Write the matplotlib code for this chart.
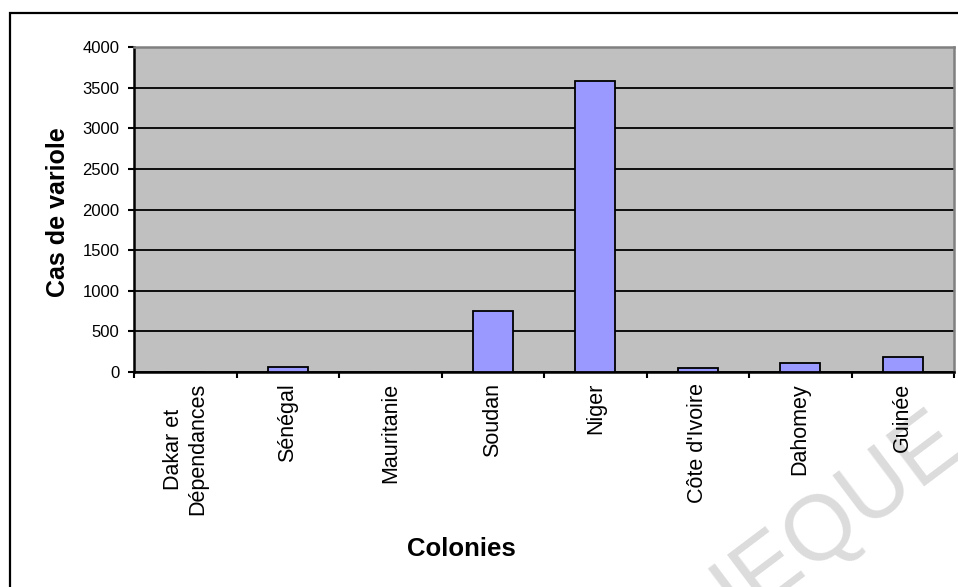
import matplotlib.pyplot as plt
from matplotlib.patches import Rectangle

colonies = ['Dakar et\nDépendances', 'Sénégal', 'Mauritanie', 'Soudan',
            'Niger', "Côte d'Ivoire", 'Dahomey', 'Guinée']
cas = [0, 58, 0, 750, 3580, 55, 107, 181]
yticks = [0, 500, 1000, 1500, 2000, 2500, 3000, 3500, 4000]

plt.rcParams['font.family'] = ['Liberation Sans', 'DejaVu Sans']

fig = plt.figure(figsize=(9.58, 5.87), dpi=100)
W, H = 958, 587

# outer frame of the chart object
fig.patches.append(Rectangle((9.5 / W, -0.2), 2.0, 1 - 13 / H + 0.2,
                             transform=fig.transFigure, fill=False,
                             edgecolor='black', linewidth=1.6, zorder=0))

# faint diagonal watermark, kept under the axes and labels
fig.text(952 / W, 1 - 430 / H, 'BIBLIOTHEQUE', fontsize=66,
         color='#dcdcdc', rotation=37, rotation_mode='anchor',
         ha='right', va='center', zorder=-1)

ax = fig.add_axes([134 / W, 1 - 372 / H, (954 - 134) / W, (372 - 47) / H])
ax.set_facecolor('#c0c0c0')

x = range(len(colonies))
ax.bar(x, cas, width=0.39, color='#9999ff', edgecolor='black',
       linewidth=1.3, zorder=3)

ax.set_xlim(-0.5, len(colonies) - 0.5)
ax.set_ylim(0, 4000)
ax.set_yticks(yticks)
ax.set_yticklabels([str(v) for v in yticks], fontsize=12)
ax.yaxis.grid(True, color='black', linewidth=1.3, zorder=1)
ax.set_axisbelow(True)
ax.tick_params(axis='y', direction='out', length=4.5, width=1.5, pad=6)

# ticks between categories, labels at bar centres
ax.set_xticks([i - 0.5 for i in range(len(colonies) + 1)])
ax.set_xticklabels([])
ax.set_xticks(list(x), minor=True)
ax.set_xticklabels(colonies, minor=True, rotation=90, fontsize=15.5,
                   ha='center', va='top', multialignment='center')
ax.tick_params(axis='x', which='major', direction='out', length=4.5, width=1.5)
ax.tick_params(axis='x', which='minor', length=0, pad=8)

for side in ['left', 'bottom']:
    ax.spines[side].set_color('black')
    ax.spines[side].set_linewidth(1.8)
for side in ['top', 'right']:
    ax.spines[side].set_color('#808080')
    ax.spines[side].set_linewidth(1.8)

fig.text(58 / W, 1 - 212 / H, 'Cas de variole', rotation=90, fontsize=18,
         fontweight='bold', ha='center', va='center')
fig.text(461 / W, 1 - 549 / H, 'Colonies', fontsize=18.5,
         fontweight='bold', ha='center', va='center')

fig.savefig('out.png', dpi=100)
